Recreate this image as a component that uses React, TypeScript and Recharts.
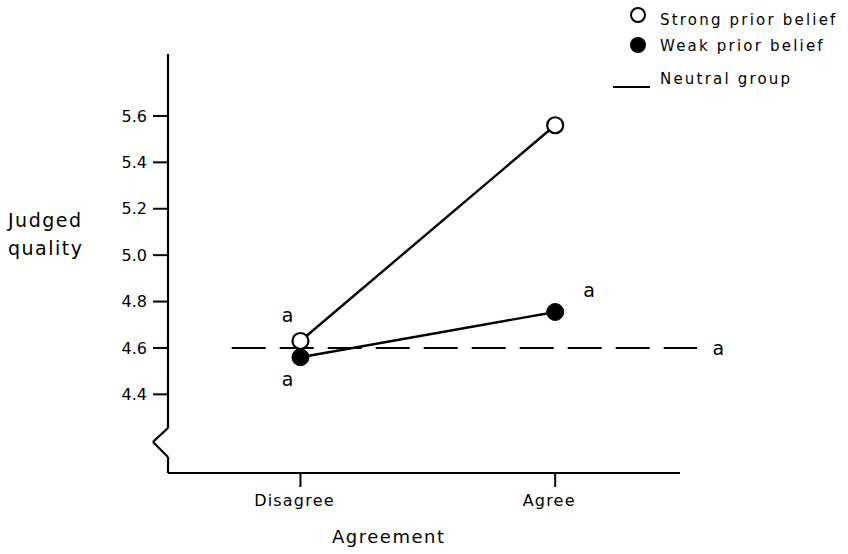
import React from 'react';
import {
  LineChart,
  Line,
  XAxis,
  YAxis,
  ReferenceLine,
  ReferenceDot,
} from 'recharts';

const agreementLevels = ['Disagree', 'Agree'];
const strongPrior = [4.63, 5.56];
const weakPrior = [4.56, 4.755];
const neutralGroup = 4.6;
const yTicks = [4.4, 4.6, 4.8, 5.0, 5.2, 5.4, 5.6];
// significance letters shown next to each point
const strongMarks = ['a', ''];
const weakMarks = ['a', 'a'];
const neutralMark = 'a';

const FONT = '"DejaVu Sans", sans-serif';

const X_DOMAIN: [number, number] = [-0.52, 1.49];
const Y_DOMAIN: [number, number] = [4.061, 5.867];

const data = agreementLevels.map((name, i) => ({
  x: i,
  name,
  strong: strongPrior[i],
  weak: weakPrior[i],
}));

const OpenDot = (props: any) => {
  const { cx, cy, index } = props;
  return <circle key={`o-${index}`} cx={cx} cy={cy} r={8} fill="#fff" stroke="#000" strokeWidth={2.2} />;
};

const FilledDot = (props: any) => {
  const { cx, cy, index } = props;
  return <circle key={`f-${index}`} cx={cx} cy={cy} r={8.5} fill="#000" stroke="#000" strokeWidth={1} />;
};

const markLabel = (marks: string[], offsets: [number, number][]) => (props: any) => {
  const { x, y, index } = props;
  const m = marks[index];
  if (!m) return null;
  const [dx, dy] = offsets[index];
  return (
    <text
      key={`l-${index}`}
      x={x + dx}
      y={y + dy}
      textAnchor="middle"
      dominantBaseline="central"
      fontFamily={FONT}
      fontSize={19}
      fill="#000"
    >
      {m}
    </text>
  );
};

// y-axis drawn as segments so the scale break can be shown
const axisX = X_DOMAIN[0];
const breakX = -0.579;
const axisSegments = [
  [{ x: axisX, y: Y_DOMAIN[1] }, { x: axisX, y: 4.255 }],
  [{ x: axisX, y: 4.255 }, { x: breakX, y: 4.195 }],
  [{ x: breakX, y: 4.195 }, { x: axisX, y: 4.13 }],
  [{ x: axisX, y: 4.13 }, { x: axisX, y: Y_DOMAIN[0] }],
];

export default function App() {
  return (
    <div style={{ position: 'absolute', left: 0, top: 0, width: 848, height: 554, background: '#fff', fontFamily: FONT }}>
      <LineChart
        width={848}
        height={554}
        data={data}
        margin={{ top: 54, right: 168, bottom: 41, left: 0 }}
      >
        <XAxis
          type="number"
          dataKey="x"
          domain={X_DOMAIN}
          allowDataOverflow
          ticks={[0, 1]}
          tickFormatter={(v) => agreementLevels[v] ?? ''}
          height={40}
          axisLine={{ stroke: '#000', strokeWidth: 2 }}
          tickLine={{ stroke: '#000', strokeWidth: 2 }}
          tickSize={14}
          tickMargin={8}
          tick={{ fill: '#000', fontSize: 16, fontFamily: FONT, letterSpacing: 1.2, dx: -6 }}
        />
        <YAxis
          type="number"
          domain={Y_DOMAIN}
          allowDataOverflow
          ticks={yTicks}
          tickFormatter={(v) => v.toFixed(1)}
          width={168}
          axisLine={false}
          tickLine={{ stroke: '#000', strokeWidth: 2 }}
          tickSize={15}
          tickMargin={6}
          tick={{ fill: '#000', fontSize: 16, fontFamily: FONT }}
        />
        {axisSegments.map((seg, i) => (
          <ReferenceLine key={`ax-${i}`} segment={seg} stroke="#000" strokeWidth={2.2} ifOverflow="visible" />
        ))}
        <ReferenceLine
          segment={[{ x: -0.27, y: neutralGroup }, { x: 1.557, y: neutralGroup }]}
          stroke="#000"
          strokeWidth={2}
          strokeDasharray="34 14"
          ifOverflow="visible"
        />
        <ReferenceDot
          x={1.64}
          y={neutralGroup}
          r={0}
          ifOverflow="visible"
          label={{ value: neutralMark, position: 'center', fontSize: 19, fontFamily: FONT, fill: '#000' }}
        />
        <Line
          dataKey="weak"
          stroke="#000"
          strokeWidth={2.4}
          dot={<FilledDot />}
          activeDot={false}
          isAnimationActive={false}
          label={markLabel(weakMarks, [[-13, 22], [34, -22]])}
        />
        <Line
          dataKey="strong"
          stroke="#000"
          strokeWidth={2.4}
          dot={<OpenDot />}
          activeDot={false}
          isAnimationActive={false}
          label={markLabel(strongMarks, [[-13, -26], [0, 0]])}
        />
      </LineChart>

      <div style={{ position: 'absolute', left: 8, top: 206, fontSize: 19, lineHeight: '28px', letterSpacing: 1.5, color: '#000' }}>
        <div>Judged</div>
        <div>quality</div>
      </div>
      <div style={{ position: 'absolute', left: 332, top: 526, fontSize: 18, letterSpacing: 1.5, color: '#000' }}>
        Agreement
      </div>

      <svg style={{ position: 'absolute', left: 600, top: 0 }} width={248} height={100}>
        <circle cx={38} cy={15} r={7} fill="#fff" stroke="#000" strokeWidth={2} />
        <circle cx={38} cy={45} r={8} fill="#000" />
        <line x1={13} y1={87} x2={50} y2={87} stroke="#000" strokeWidth={2} />
        <text x={60} y={20} dominantBaseline="central" fontFamily={FONT} fontSize={15} letterSpacing={2.2}>Strong prior belief</text>
        <text x={60} y={46} dominantBaseline="central" fontFamily={FONT} fontSize={15} letterSpacing={2.2}>Weak prior belief</text>
        <text x={60} y={79} dominantBaseline="central" fontFamily={FONT} fontSize={15} letterSpacing={2.2}>Neutral group</text>
      </svg>
    </div>
  );
}
